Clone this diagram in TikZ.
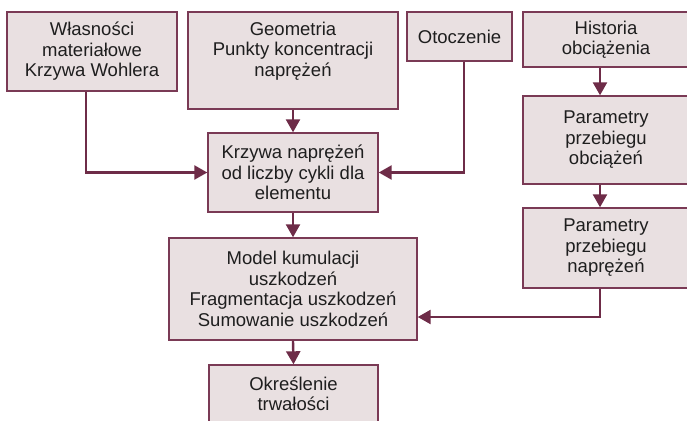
\documentclass[tikz,border=0pt]{standalone}
\usepackage{fontspec}
\setmainfont{Liberation Sans}
\usetikzlibrary{arrows.meta}
\definecolor{boxfill}{RGB}{233,224,225}
\definecolor{boxline}{RGB}{122,58,85}
\definecolor{conn}{RGB}{110,44,72}
\definecolor{txt}{RGB}{30,30,30}
\begin{document}
\begin{tikzpicture}[x=1pt,y=-1pt,
  box/.style={draw=boxline, fill=boxfill, line width=1.4pt, inner sep=0pt,
    align=center, text=txt, font=\fontsize{18.5}{20.5}\selectfont},
  lbl/.style={align=center, text=txt, inner sep=0pt, font=\fontsize{18.5}{20.5}\selectfont},
  link/.style={draw=conn, line width=2.4pt, -{Triangle[length=13pt,width=14pt]}}]
\useasboundingbox (0,0) rectangle (687,420);
\fill[white] (0,0) rectangle (687,420);
\clip (0,0) rectangle (687,420);

\node[box, minimum width=170pt, minimum height=79pt] (wl) at (92,51.5)
  {Własności\\materiałowe\\Krzywa Wohlera};
\node[box, minimum width=210pt, minimum height=97pt] (geo) at (293,60.5) {};
\node[lbl] (geotxt) at (293,51) {Geometria\\Punkty koncentracji\\naprężeń};
\node[box, minimum width=105pt, minimum height=49pt] (oto) at (459.5,36.5) {Otoczenie};
\node[box, minimum width=166pt, minimum height=55pt] (hist) at (606,39.5)
  {Historia\\obciążenia};
\node[box, minimum width=166pt, minimum height=88pt] (par1) at (606,140)
  {Parametry\\przebiegu\\obciążeń};
\node[box, minimum width=166pt, minimum height=80pt] (par2) at (606,248)
  {Parametry\\przebiegu\\naprężeń};
\node[box, minimum width=170pt, minimum height=79pt] (krz) at (293,172.5)
  {Krzywa naprężeń\\od liczby cykli dla\\elementu};
\node[box, minimum width=248pt, minimum height=102pt] (mod) at (293,289)
  {Model kumulacji\\uszkodzeń\\Fragmentacja uszkodzeń\\Sumowanie uszkodzeń};
\node[box, minimum width=169pt, minimum height=58pt] (okr) at (293.5,394)
  {Określenie\\trwałości};

\draw[link] ([xshift=-6pt]wl.south) |- (krz.west);
\draw[link] ([xshift=4.5pt]oto.south) |- (krz.east);
\draw[link] (geo.south) -- (krz.north);
\draw[link] (krz.south) -- (mod.north);
\draw[link] (mod.south) -- (okr.north);
\draw[link] ([xshift=-6pt]hist.south) -- ([xshift=-6pt]par1.north);
\draw[link] ([xshift=-6pt]par1.south) -- ([xshift=-6pt]par2.north);
\draw[link] ([xshift=-6pt]par2.south) |- ([yshift=-28pt]mod.east);
\end{tikzpicture}
\end{document}
